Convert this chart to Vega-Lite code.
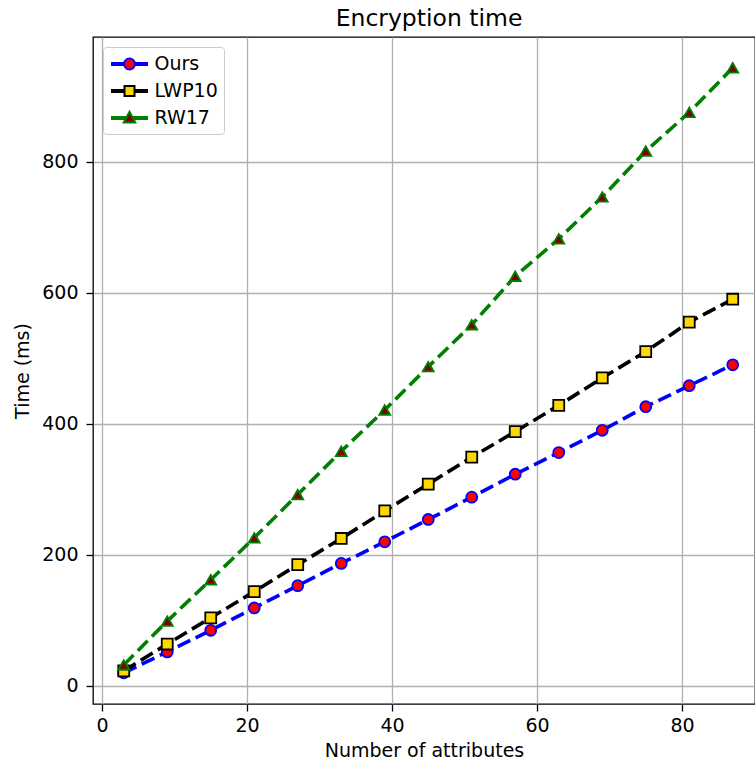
{
  "$schema": "https://vega.github.io/schema/vega-lite/v6.json",
  "autosize": {"type": "none"},
  "padding": {"left": 93, "top": 37, "right": 0, "bottom": 63},
  "width": 662,
  "height": 667,
  "background": "white",
  "title": {"text": "Encryption time", "fontSize": 23.5, "fontWeight": "normal", "font": "DejaVu Sans", "color": "black", "offset": 7, "anchor": "middle", "frame": "group", "dx": 5},
  "config": {
    "view": {"stroke": "black", "strokeWidth": 1.3},
    "axis": {"domain": false, "tickColor": "black", "tickSize": 7, "tickWidth": 1.3, "labelColor": "black", "labelFont": "DejaVu Sans", "labelFontSize": 19, "titleFont": "DejaVu Sans", "titleFontSize": 19, "titleFontWeight": "normal", "titleColor": "black", "gridColor": "#b0b0b0", "gridWidth": 1.3},
    "legend": {"title": null, "orient": "top-left", "offset": 10, "padding": 6, "cornerRadius": 3, "strokeColor": "#cccccc", "fillColor": "rgba(255,255,255,0.8)", "labelFontSize": 19, "labelFont": "DejaVu Sans", "labelColor": "black", "labelOffset": 14, "rowPadding": 6, "symbolSize": 400, "symbolStrokeWidth": 2, "symbolOffset": 9.5}
  },
  "data": {"values": [
    {"x": 3, "series": "Ours", "time": 20}, {"x": 9, "series": "Ours", "time": 52}, {"x": 15, "series": "Ours", "time": 85}, {"x": 21, "series": "Ours", "time": 119}, {"x": 27, "series": "Ours", "time": 153}, {"x": 33, "series": "Ours", "time": 187}, {"x": 39, "series": "Ours", "time": 220}, {"x": 45, "series": "Ours", "time": 254}, {"x": 51, "series": "Ours", "time": 288}, {"x": 57, "series": "Ours", "time": 323}, {"x": 63, "series": "Ours", "time": 356}, {"x": 69, "series": "Ours", "time": 390}, {"x": 75, "series": "Ours", "time": 426}, {"x": 81, "series": "Ours", "time": 458}, {"x": 87, "series": "Ours", "time": 490},
    {"x": 3, "series": "LWP10", "time": 23}, {"x": 9, "series": "LWP10", "time": 64}, {"x": 15, "series": "LWP10", "time": 104}, {"x": 21, "series": "LWP10", "time": 144}, {"x": 27, "series": "LWP10", "time": 185}, {"x": 33, "series": "LWP10", "time": 225}, {"x": 39, "series": "LWP10", "time": 267}, {"x": 45, "series": "LWP10", "time": 308}, {"x": 51, "series": "LWP10", "time": 349}, {"x": 57, "series": "LWP10", "time": 388}, {"x": 63, "series": "LWP10", "time": 428}, {"x": 69, "series": "LWP10", "time": 470}, {"x": 75, "series": "LWP10", "time": 510}, {"x": 81, "series": "LWP10", "time": 555}, {"x": 87, "series": "LWP10", "time": 590},
    {"x": 3, "series": "RW17", "time": 32}, {"x": 9, "series": "RW17", "time": 99}, {"x": 15, "series": "RW17", "time": 162}, {"x": 21, "series": "RW17", "time": 226}, {"x": 27, "series": "RW17", "time": 292}, {"x": 33, "series": "RW17", "time": 358}, {"x": 39, "series": "RW17", "time": 421}, {"x": 45, "series": "RW17", "time": 487}, {"x": 51, "series": "RW17", "time": 551}, {"x": 57, "series": "RW17", "time": 625}, {"x": 63, "series": "RW17", "time": 682}, {"x": 69, "series": "RW17", "time": 746}, {"x": 75, "series": "RW17", "time": 816}, {"x": 81, "series": "RW17", "time": 875}, {"x": 87, "series": "RW17", "time": 943}
  ]},
  "encoding": {
    "x": {"field": "x", "type": "quantitative", "scale": {"domain": [-1.24, 90.07], "nice": false, "zero": false}, "axis": {"values": [0, 20, 40, 60, 80], "title": "Number of attributes", "titlePadding": 6, "labelPadding": 5}},
    "y": {"field": "time", "type": "quantitative", "scale": {"domain": [-27.5, 990], "nice": false, "zero": false}, "axis": {"values": [0, 200, 400, 600, 800], "title": "Time (ms)", "titlePadding": 9, "labelPadding": 8}}
  },
  "layer": [
    {
      "mark": {"type": "line", "strokeWidth": 3.6, "strokeDash": [14, 6]},
      "encoding": {
        "stroke": {"field": "series", "type": "nominal", "scale": {"domain": ["Ours", "LWP10", "RW17"], "range": ["#0000ff", "#000000", "#008000"]}, "legend": null}
      }
    },
    {
      "mark": {"type": "point", "filled": true, "size": 120, "strokeWidth": 1.8, "opacity": 1},
      "encoding": {
        "shape": {"field": "series", "type": "nominal", "scale": {"domain": ["Ours", "LWP10", "RW17"], "range": ["circle", "square", "triangle-up"]}, "legend": null},
        "fill": {"field": "series", "type": "nominal", "scale": {"domain": ["Ours", "LWP10", "RW17"], "range": ["#ff0000", "#ffd700", "#800000"]}, "legend": null},
        "stroke": {"field": "series", "type": "nominal", "scale": {"domain": ["Ours", "LWP10", "RW17"], "range": ["#0000ff", "#000000", "#008000"]}, "legend": null}
      }
    },
    {
      "transform": [{"filter": "datum.x < 0"}],
      "mark": {"type": "point", "filled": true, "size": 400, "strokeWidth": 2, "opacity": 1},
      "encoding": {
        "shape": {"field": "series", "type": "nominal", "scale": {"domain": ["Ours", "LWP10", "RW17"], "range": [
          "M-1.85,-0.1H-0.55M-1.85,0.1H-0.55M-1.85,0H-0.55M0.55,-0.1H1.85M0.55,0.1H1.85M0.55,0H1.85M-0.55,0A0.55,0.55,0,1,0,0.55,0A0.55,0.55,0,1,0,-0.55,0Z",
          "M-1.85,-0.1H-0.5M-1.85,0.1H-0.5M-1.85,0H-0.5M0.5,-0.1H1.85M0.5,0.1H1.85M0.5,0H1.85M-0.5,-0.5H0.5V0.5H-0.5Z",
          "M-1.85,-0.1H-0.3M-1.85,0.1H-0.3M-1.85,0H-0.3M0.3,-0.1H1.85M0.3,0.1H1.85M0.3,0H1.85M0,-0.62L0.58,0.45L-0.58,0.45Z"
        ]}, "legend": {}},
        "fill": {"field": "series", "type": "nominal", "scale": {"domain": ["Ours", "LWP10", "RW17"], "range": ["#ff0000", "#ffd700", "#800000"]}, "legend": {}},
        "stroke": {"field": "series", "type": "nominal", "scale": {"domain": ["Ours", "LWP10", "RW17"], "range": ["#0000ff", "#000000", "#008000"]}, "legend": {}}
      }
    }
  ],
  "resolve": {"scale": {"shape": "independent", "fill": "independent", "stroke": "independent"}, "legend": {"shape": "independent", "fill": "independent", "stroke": "independent"}}
}
